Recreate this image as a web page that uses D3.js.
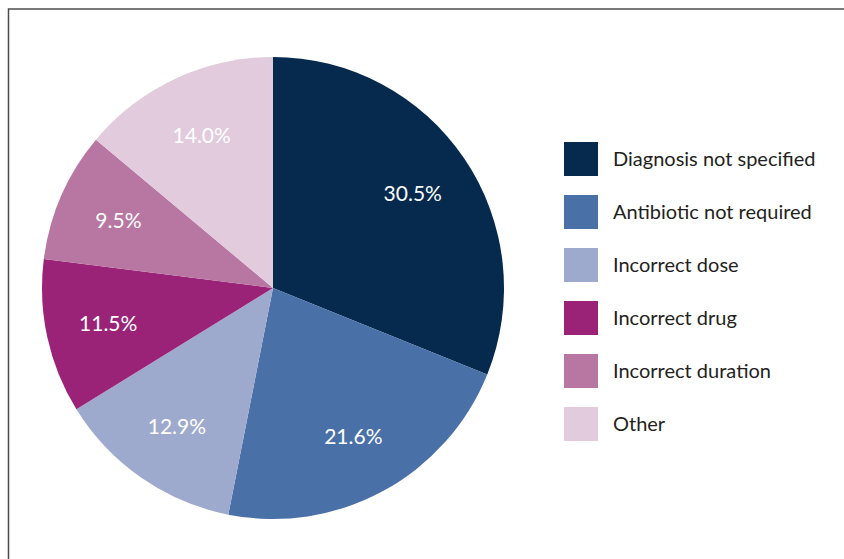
<!DOCTYPE html>
<html>
<head>
<meta charset="utf-8">
<script src="https://cdn.jsdelivr.net/npm/d3@7"></script>
<style>
  html, body { margin: 0; padding: 0; background: #fff; }
  text { font-family: Lato, "Open Sans", sans-serif; }
</style>
</head>
<body>
<div id="chart"></div>
<script>
const width = 844;
const height = 559;

// Data
const categories = ["Diagnosis not specified", "Antibiotic not required", "Incorrect dose",
  "Incorrect drug", "Incorrect duration", "Other"];
// printed percentage labels
const labelShares = [30.5, 21.6, 12.9, 11.5, 9.5, 14.0];
// slice sizes as drawn in the picture (measured from the slice angles)
const sliceShares = [31.1, 22.0, 13.1, 10.8, 9.1, 13.9];
const colors = ["#052a4d", "#4a70a8", "#9eaacd", "#9a2378", "#b877a2", "#e2cbdc"];

const svg = d3.select("#chart").append("svg")
  .attr("width", width)
  .attr("height", height);

// frame (left and top only)
svg.append("path")
  .attr("d", `M8.5,${height} V9 H${width}`)
  .attr("fill", "none")
  .attr("stroke", "#4d4d4d")
  .attr("stroke-width", 1.5);

const cx = 273, cy = 288, radius = 231;

const pie = d3.pie().sort(null).value(d => d.slice);
const arc = d3.arc().innerRadius(0).outerRadius(radius);
const labelArc = d3.arc().innerRadius(radius * 0.73).outerRadius(radius * 0.73);
const color = d3.scaleOrdinal().domain(categories).range(colors);

const rows = categories.map((c, i) => ({ name: c, slice: sliceShares[i], label: labelShares[i] }));
const arcs = pie(rows);
const g = svg.append("g").attr("transform", `translate(${cx},${cy})`);

g.selectAll("path")
  .data(arcs)
  .enter().append("path")
  .attr("d", arc)
  .attr("fill", d => color(d.data.name));

g.selectAll("text")
  .data(arcs)
  .enter().append("text")
  .attr("transform", d => `translate(${labelArc.centroid(d)})`)
  .attr("text-anchor", "middle")
  .attr("dy", ".35em")
  .attr("fill", "#fff")
  .attr("font-size", 21)
  .text(d => d.data.label.toFixed(1) + "%");

// Legend
const legend = svg.append("g").attr("transform", "translate(564,142)");
const item = legend.selectAll("g")
  .data(categories)
  .enter().append("g")
  .attr("transform", (d, i) => `translate(0,${i * 53})`);

item.append("rect")
  .attr("width", 34)
  .attr("height", 34)
  .attr("fill", d => color(d));

item.append("text")
  .attr("x", 49)
  .attr("y", 17)
  .attr("dy", ".35em")
  .attr("fill", "#231f20")
  .attr("font-size", 20)
  .text(d => d);
</script>
</body>
</html>
